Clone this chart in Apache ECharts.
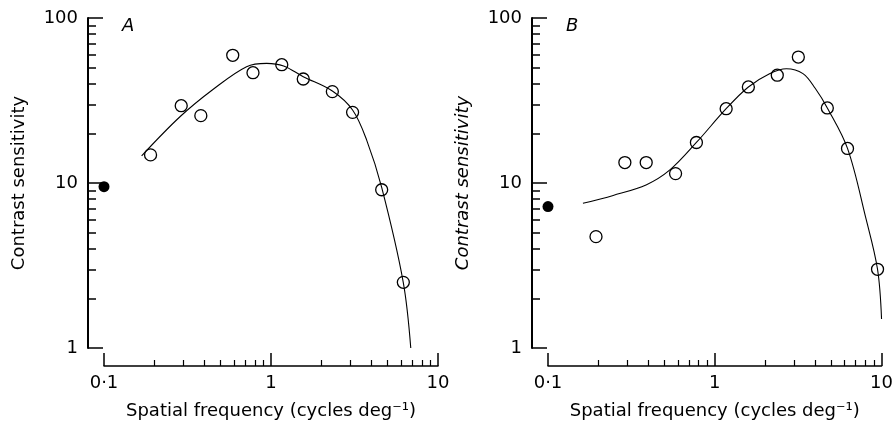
<!DOCTYPE html>
<html>
<head>
<meta charset="utf-8">
<script src="https://cdn.jsdelivr.net/npm/echarts@6/dist/echarts.min.js"></script>
<style>html,body{margin:0;padding:0;background:#fff}#c{width:896px;height:431px}</style>
</head>
<body>
<div id="c"></div>
<script>
// Panel A data
const freqA = [0.19, 0.29, 0.38, 0.59, 0.78, 1.16, 1.56, 2.33, 3.08, 4.6, 6.2];
const sensA = [14.8, 29.4, 25.6, 59.4, 46.6, 52.1, 42.7, 35.8, 26.8, 9.1, 2.5];
const curveFreqA = [0.168, 0.285, 0.451, 0.714, 0.942, 1.19, 1.56, 2.33, 3.08, 3.74, 4.6, 6.19, 6.87];
const curveSensA = [14.6, 25.2, 37.0, 50.7, 53.1, 51.2, 44.1, 36.1, 27.7, 18.2, 9.4, 2.51, 1.0];
const restFreqA = [0.1];
const restSensA = [9.5];
// Panel B data
const freqB = [0.194, 0.289, 0.388, 0.582, 0.776, 1.17, 1.59, 2.37, 3.17, 4.73, 6.25, 9.46];
const sensB = [4.73, 13.3, 13.3, 11.4, 17.6, 28.2, 38.2, 45.0, 58.0, 28.5, 16.2, 3.0];
const curveFreqB = [0.162, 0.246, 0.39, 0.538, 0.776, 1.17, 1.59, 2.13, 2.69, 3.38, 4.0, 4.73, 6.25, 8.01, 9.46, 10];
const curveSensB = [7.53, 8.41, 9.77, 12.0, 17.6, 28.2, 38.2, 46.0, 49.3, 46.0, 37.5, 28.5, 16.2, 6.25, 3.0, 1.5];
const restFreqB = [0.1];
const restSensB = [7.2];
// Axis ticks and labels
const xMajor = [0.1, 1, 10];
const xMinor = [0.2, 0.3, 0.4, 0.5, 0.6, 0.7, 0.8, 0.9, 2, 3, 4, 5, 6, 7, 8, 9];
const xTickLabels = ['0·1', '1', '10'];
const yMajor = [1, 10, 100];
const yMinor = [2, 3, 4, 5, 6, 7, 8, 9, 20, 30, 40, 50, 60, 70, 80, 90];
const yTickLabels = ['1', '10', '100'];
const xTitle = 'Spatial frequency (cycles deg⁻¹)';
const yTitle = 'Contrast sensitivity';
const panelLetters = ['A', 'B'];

const FONT = 'DejaVu Sans';
const ink = '#000';
const zip = (a, b) => a.map((v, i) => [v, b[i]]);

function xAxesFor(g) {
  return [
    {
      type: 'log', gridIndex: g, min: 0.1, max: 10, position: 'bottom', offset: 18,
      axisLine: { show: true, lineStyle: { color: ink, width: 1.5 } },
      axisTick: { show: true, inside: true, length: 6, customValues: xMinor, lineStyle: { color: ink, width: 1.2 } },
      axisLabel: {
        show: true, customValues: xMajor, margin: 8, color: ink, fontFamily: FONT, fontSize: 18,
        formatter: v => xTickLabels[xMajor.findIndex(m => Math.abs(m - v) < 1e-9)] ?? ''
      },
      minorTick: { show: false }, splitLine: { show: false },
      name: xTitle, nameLocation: 'middle', nameGap: 36,
      nameTextStyle: { color: ink, fontFamily: FONT, fontSize: 18 }
    },
    {
      type: 'log', gridIndex: g, min: 0.1, max: 10, position: 'bottom', offset: 18,
      axisLine: { show: false },
      axisTick: { show: true, inside: true, length: 13, customValues: xMajor, lineStyle: { color: ink, width: 1.5 } },
      axisLabel: { show: false }, splitLine: { show: false }
    }
  ];
}
function yAxesFor(g, italic) {
  return [
    {
      type: 'log', gridIndex: g, min: 1, max: 100, position: 'left', offset: 16,
      axisLine: { show: true, lineStyle: { color: ink, width: 2 } },
      axisTick: { show: true, inside: true, length: 8, customValues: yMinor, lineStyle: { color: ink, width: 1.5 } },
      axisLabel: {
        show: true, customValues: yMajor, margin: 10, color: ink, fontFamily: FONT, fontSize: 18,
        formatter: v => yTickLabels[yMajor.findIndex(m => Math.abs(m - v) < 1e-9)] ?? ''
      },
      splitLine: { show: false },
      name: yTitle, nameLocation: 'middle', nameGap: 60, nameRotate: 90,
      nameTextStyle: { color: ink, fontFamily: FONT, fontSize: 18, fontStyle: italic ? 'italic' : 'normal' }
    },
    {
      type: 'log', gridIndex: g, min: 1, max: 100, position: 'left', offset: 16,
      axisLine: { show: false },
      axisTick: { show: true, inside: true, length: 15, customValues: yMajor, lineStyle: { color: ink, width: 1.5 } },
      axisLabel: { show: false }, splitLine: { show: false }
    }
  ];
}
function seriesFor(xi, yi, f, s, cf, cs, rf, rs) {
  return [
    {
      type: 'line', xAxisIndex: xi, yAxisIndex: yi, data: zip(cf, cs), smooth: 0.35,
      showSymbol: false, lineStyle: { color: ink, width: 1.1 }, silent: true, z: 2
    },
    {
      type: 'scatter', xAxisIndex: xi, yAxisIndex: yi, data: zip(f, s), symbol: 'circle', symbolSize: 12,
      itemStyle: { color: 'rgba(0,0,0,0)', borderColor: ink, borderWidth: 1.3, opacity: 1 }, z: 3
    },
    {
      type: 'scatter', xAxisIndex: xi, yAxisIndex: yi, data: zip(rf, rs), symbol: 'circle', symbolSize: 11,
      itemStyle: { color: ink, opacity: 1 }, z: 3
    }
  ];
}

const chart = echarts.init(document.getElementById('c'), null, { renderer: 'canvas' });
chart.setOption({
  animation: false,
  backgroundColor: '#fff',
  textStyle: { fontFamily: FONT },
  grid: [
    { left: 104, top: 18, width: 334, height: 330 },
    { left: 548, top: 18, width: 334, height: 330 }
  ],
  xAxis: [...xAxesFor(0), ...xAxesFor(1)],
  yAxis: [...yAxesFor(0, false), ...yAxesFor(1, true)],
  series: [
    ...seriesFor(0, 0, freqA, sensA, curveFreqA, curveSensA, restFreqA, restSensA),
    ...seriesFor(2, 2, freqB, sensB, curveFreqB, curveSensB, restFreqB, restSensB)
  ],
  graphic: [
    { type: 'text', left: 122, top: 17, style: { text: panelLetters[0], font: 'italic 18px "DejaVu Sans"', fill: ink } },
    { type: 'text', left: 566, top: 17, style: { text: panelLetters[1], font: 'italic 18px "DejaVu Sans"', fill: ink } }
  ]
});
</script>
</body>
</html>
